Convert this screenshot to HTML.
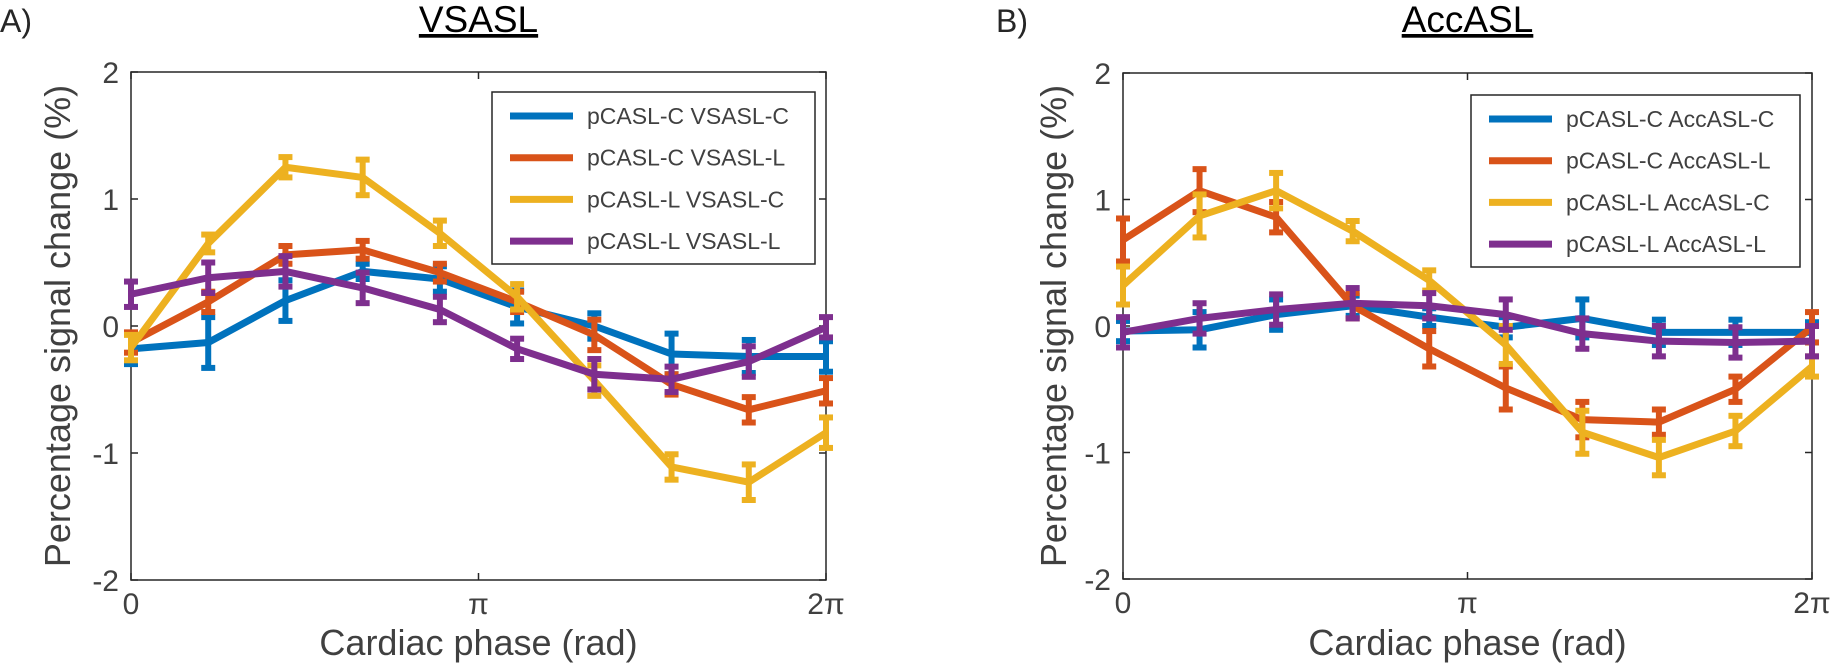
<!DOCTYPE html>
<html><head><meta charset="utf-8"><style>
html,body{margin:0;padding:0;background:#fff;}
svg{display:block;font-family:"Liberation Sans",Arial,sans-serif;}
</style></head><body>
<svg id="chart" width="1832" height="670" viewBox="0 0 1832 670" xmlns="http://www.w3.org/2000/svg"></svg>
<script>
const seriesNamesA = ["pCASL-C VSASL-C","pCASL-C VSASL-L","pCASL-L VSASL-C","pCASL-L VSASL-L"];
const seriesNamesB = ["pCASL-C AccASL-C","pCASL-C AccASL-L","pCASL-L AccASL-C","pCASL-L AccASL-L"];
const colors = ["#0072BD","#D95319","#EDB120","#7E2F8E"];
const phaseIndex = [0,1,2,3,4,5,6,7,8,9];
const yTicks = [-2,-1,0,1,2];
const yTickLabels = ["-2","-1","0","1","2"];
const xTicks = [0,Math.PI,2*Math.PI];
const xTickLabels = ["0","π","2π"];
// Panel A values
const a_blue = [-0.18,-0.13,0.20,0.43,0.37,0.15,0.00,-0.22,-0.24,-0.24];
const a_blueErr = [0.12,0.20,0.16,0.06,0.10,0.13,0.10,0.16,0.13,0.12];
const a_orange = [-0.13,0.19,0.56,0.60,0.42,0.19,-0.07,-0.46,-0.66,-0.51];
const a_orangeErr = [0.08,0.08,0.07,0.07,0.07,0.08,0.12,0.08,0.10,0.10];
const a_yellow = [-0.17,0.65,1.25,1.17,0.73,0.23,-0.43,-1.11,-1.23,-0.84];
const a_yellowErr = [0.10,0.07,0.08,0.14,0.10,0.10,0.12,0.10,0.14,0.12];
const a_purple = [0.25,0.38,0.43,0.30,0.13,-0.18,-0.38,-0.42,-0.28,-0.01];
const a_purpleErr = [0.10,0.12,0.12,0.12,0.10,0.08,0.12,0.10,0.12,0.08];
// Panel B values
const b_blue = [-0.04,-0.03,0.09,0.16,0.07,-0.01,0.06,-0.05,-0.05,-0.05];
const b_blueErr = [0.08,0.14,0.12,0.08,0.07,0.08,0.15,0.10,0.10,0.08];
const b_orange = [0.68,1.07,0.86,0.16,-0.18,-0.49,-0.74,-0.76,-0.50,-0.01];
const b_orangeErr = [0.17,0.17,0.12,0.10,0.14,0.17,0.14,0.10,0.10,0.12];
const b_yellow = [0.32,0.87,1.07,0.75,0.36,-0.15,-0.84,-1.04,-0.83,-0.32];
const b_yellowErr = [0.15,0.17,0.14,0.08,0.08,0.15,0.17,0.14,0.12,0.08];
const b_purple = [-0.05,0.06,0.13,0.18,0.16,0.09,-0.06,-0.12,-0.13,-0.12];
const b_purpleErr = [0.12,0.12,0.12,0.12,0.10,0.12,0.12,0.12,0.12,0.12];

const NS="http://www.w3.org/2000/svg";
const svg=document.getElementById('chart');
function mk(tag,attrs,parent){const e=document.createElementNS(NS,tag);for(const k in attrs)e.setAttribute(k,attrs[k]);(parent||svg).appendChild(e);return e;}

function drawPanel(p){
  const g=mk('g',{});
  
  
  const xs=v=>p.x0+(v/(2*Math.PI))*(p.x1-p.x0);
  const ys=v=>p.y0+(2-v)/4*(p.y1-p.y0);
  const phase=i=>i*2*Math.PI/9;
  const lt=mk('text',{x:p.letterX,y:32,'font-size':32,fill:'#262626'},g);lt.textContent=p.letter;
  
  
  const tt=mk('text',{x:(p.x0+p.x1)/2,y:32,'font-size':37,'text-anchor':'middle',fill:'#000','text-decoration':'underline'},g);tt.textContent=p.title;
  
  
  const box=mk('rect',{x:p.x0,y:p.y0,width:p.x1-p.x0,height:p.y1-p.y0,fill:'none',stroke:'#262626','stroke-width':1.5},g);
  
  
  yTicks.forEach((t,i)=>{
    const y=ys(t);
    mk('line',{x1:p.x0,x2:p.x0+7,y1:y,y2:y,stroke:'#262626','stroke-width':1.5},g);
    mk('line',{x1:p.x1,x2:p.x1-7,y1:y,y2:y,stroke:'#262626','stroke-width':1.5},g);
    const tx=mk('text',{x:p.x0-12,y:y+11,'font-size':30,'text-anchor':'end',fill:'#404040'},g);tx.textContent=yTickLabels[i];
    
    
  });
  xTicks.forEach((t,i)=>{
    const x=xs(t);
    mk('line',{x1:x,x2:x,y1:p.y1,y2:p.y1-7,stroke:'#262626','stroke-width':1.5},g);
    mk('line',{x1:x,x2:x,y1:p.y0,y2:p.y0+7,stroke:'#262626','stroke-width':1.5},g);
    const tx=mk('text',{x:x,y:p.y1+34,'font-size':30,'text-anchor':'middle',fill:'#404040'},g);tx.textContent=xTickLabels[i];
    
    
  });
  const xl=mk('text',{x:(p.x0+p.x1)/2,y:655,'font-size':36,'text-anchor':'middle',fill:'#404040'},g);xl.textContent='Cardiac phase (rad)';
  
  
  const yl=mk('text',{x:0,y:0,'font-size':36,'text-anchor':'middle',fill:'#404040',transform:`translate(${p.ylabX},${(p.y0+p.y1)/2}) rotate(-90)`},g);yl.textContent='Percentage signal change (%)';
  
  
  p.series.forEach((s,si)=>{
    const sg=mk('g',{},g);
    
    
    s.vals.forEach((v,i)=>{
      const x=xs(phase(phaseIndex[i]));const e=s.err[i];
      const top=ys(v+e),bot=ys(v-e);
      mk('line',{x1:x,x2:x,y1:top,y2:bot,stroke:colors[si],'stroke-width':6},sg);
      mk('line',{x1:x-7,x2:x+7,y1:top,y2:top,stroke:colors[si],'stroke-width':6},sg);
      mk('line',{x1:x-7,x2:x+7,y1:bot,y2:bot,stroke:colors[si],'stroke-width':6},sg);
    });
    const pts=s.vals.map((v,i)=>xs(phase(phaseIndex[i]))+','+ys(v)).join(' ');
    const pl=mk('polyline',{points:pts,fill:'none',stroke:colors[si],'stroke-width':7,'stroke-linejoin':'round'},sg);
    
    
  });
  const lg=mk('g',{},g);
  
  
  mk('rect',{x:p.lx0,y:p.ly0,width:p.lw,height:172,fill:'#fff',stroke:'#262626','stroke-width':1.5},lg);
  p.names.forEach((n,i)=>{
    const y=p.ly0+24+i*41.7;
    mk('line',{x1:p.lx0+18,x2:p.lx0+81,y1:y,y2:y,stroke:colors[i],'stroke-width':7},lg);
    const t=mk('text',{x:p.lx0+95,y:y+8,'font-size':23,fill:'#404040'},lg);t.textContent=n;
    
    
  });
}
drawPanel({id:'panel-vsasl',letter:'A)',letterX:0,title:'VSASL',x0:131,x1:826,y0:72,y1:580,ylabX:70,
  lx0:492,ly0:92,lw:323,names:seriesNamesA,
  series:[{vals:a_blue,err:a_blueErr},{vals:a_orange,err:a_orangeErr},{vals:a_yellow,err:a_yellowErr},{vals:a_purple,err:a_purpleErr}]});
drawPanel({id:'panel-accasl',letter:'B)',letterX:996,title:'AccASL',x0:1123,x1:1812,y0:73,y1:579,ylabX:1066,
  lx0:1471,ly0:95,lw:329,names:seriesNamesB,
  series:[{vals:b_blue,err:b_blueErr},{vals:b_orange,err:b_orangeErr},{vals:b_yellow,err:b_yellowErr},{vals:b_purple,err:b_purpleErr}]});
</script>
</body></html>
